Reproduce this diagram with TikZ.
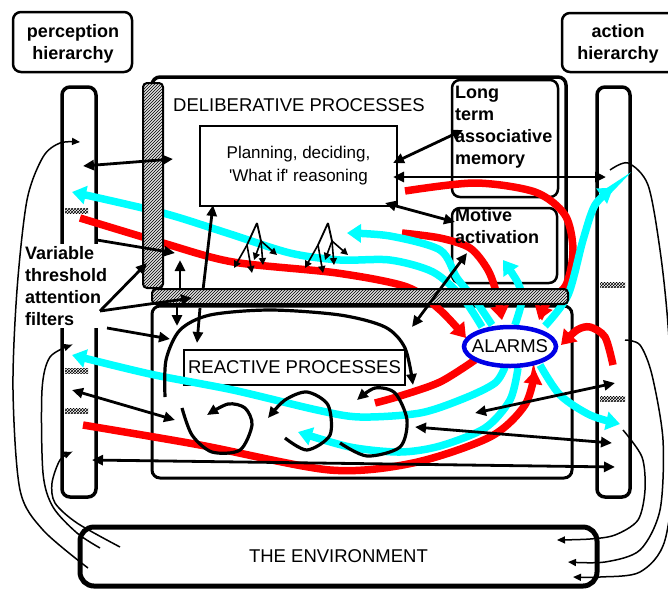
\documentclass[tikz,border=0pt]{standalone}
\usepackage{fontspec}
\setmainfont{Liberation Sans}
\usetikzlibrary{arrows.meta,patterns,shapes.geometric}
\definecolor{aqua}{RGB}{0,255,255}
\definecolor{alarmred}{RGB}{255,0,0}
\definecolor{alarmblue}{RGB}{0,0,230}

\begin{document}
\begin{tikzpicture}[x=1pt,y=-1pt,
    box/.style={draw,line width=3pt,rounded corners=8pt},
    bold/.style={font=\fontsize{18}{22}\selectfont\bfseries,inner sep=0pt},
    plain/.style={font=\fontsize{18.5}{22}\selectfont,inner sep=0pt},
    arr/.style={line width=2.8pt,-{Triangle[length=11pt,width=10pt]}},
    darr/.style={line width=2.8pt,{Triangle[length=11pt,width=10pt]}-{Triangle[length=11pt,width=10pt]}},
    fine/.style={line width=1.5pt,-{Triangle[length=8pt,width=7pt]}},
    tree/.style={line width=1.6pt,-{Triangle[length=7pt,width=7pt]}},
    flow/.style={line width=7.5pt,-{Triangle[length=14pt,width=18pt]}},
    hatchbar/.style={draw,line width=2pt,rounded corners=4pt,fill=gray!25,postaction={pattern=north east lines}},
    filt/.style={pattern=crosshatch}]
  \clip (0,0) rectangle (668,590);

  % hierarchy labels and columns
  \draw[box,line width=2.5pt] (13,12) rectangle (132,72);
  \draw[box,line width=2.5pt] (562,13) rectangle (700,72);
  \draw[line width=3.5pt,rounded corners=8pt] (62,87) rectangle (96,497);
  \draw[line width=3.5pt,rounded corners=8pt] (597,87) rectangle (630,497);
  \foreach \y in {208,368,408} \fill[filt] (65,\y) rectangle (88,\y+5);
  \foreach \y in {282,396} \fill[filt] (600,\y) rectangle (625,\y+5);

  % process boxes
  \draw[box,line width=3.5pt] (152,77) rectangle (566,290);
  \draw[box] (152,306) rectangle (572,478);
  \draw[box,line width=2.5pt] (452,80) rectangle (558,197);
  \draw[box,line width=2.5pt] (452,208) rectangle (557,283);
  \node[draw,line width=2pt,fill=white,minimum width=197pt,minimum height=80pt,align=center,
        font=\fontsize{17}{23}\selectfont] (plan) at (298.5,166)
        {Planning, deciding,\\\textquotesingle What if\textquotesingle\ reasoning};
  \node[draw,line width=2pt,fill=white,minimum width=221pt,minimum height=35pt,plain] (react)
        at (294.5,367.5) {REACTIVE PROCESSES};
  \node[draw,line width=5pt,rounded corners=14pt,minimum width=517pt,minimum height=59pt,plain] (env)
        at (338.5,556.5) {THE ENVIRONMENT};

  % red flows
  \draw[flow,alarmred] plot[smooth] coordinates {(80,218) (163,243) (233,262) (337,273) (407,287) (440,310) (466,338)};
  \draw[flow,alarmred] plot[smooth] coordinates {(405,191) (475,183) (535,192) (565,215) (573,250) (566,285) (547,303) (539,320)};
  \draw[flow,alarmred] plot[smooth] coordinates {(402,233) (440,238) (470,248) (488,270) (497,295) (502,320)};
  \draw[line width=7.5pt,alarmred] plot[smooth] coordinates {(475,360) (440,382) (400,396) (375,403)};
  \draw[flow,alarmred] plot[smooth] coordinates {(83,425) (200,445) (330,470) (413,463) (490,437) (525,405) (535,370)};
  \draw[flow,alarmred] plot[smooth] coordinates {(613,365) (605,337) (590,327) (577,330) (561,345)};

  % cyan flows
  \draw[flow,aqua] plot[smooth] coordinates {(482,327) (462,297) (433,272) (390,260) (340,260) (290,253) (227,233) (163,213) (72,192)};
  \draw[flow,aqua] plot[smooth] coordinates {(492,325) (475,300) (457,278) (440,250) (390,236) (347,233)};
  \draw[flow,aqua] plot[smooth] coordinates {(515,325) (522,300) (518,283) (503,260)};
  \draw[flow,aqua] plot[smooth] coordinates {(545,326) (568,295) (583,240) (595,205) (613,188)};
  \draw[flow,aqua] plot[smooth] coordinates {(505,367) (495,383) (465,398) (420,413) (360,417) (317,410) (233,390) (150,374) (72,355)};
  \draw[flow,aqua] plot[smooth] coordinates {(518,368) (510,400) (485,428) (440,446) (400,452) (350,447) (298,432)};
  \draw[flow,aqua] plot[smooth] coordinates {(540,365) (560,395) (590,415) (620,424)};

  % attention filter bars
  \draw[hatchbar] (143,83) rectangle (163,288);
  \draw[hatchbar] (152,289) rectangle (568,304);

  \node[ellipse,draw=alarmblue,line width=4.5pt,fill=white,minimum width=92pt,minimum height=39pt] (alarms) at (510,346.5) {};
  \node[plain] (alarmtxt) at (alarms) {ALARMS};

  % texts
  \node[bold,align=center] (perc) at (73,44) {perception\\hierarchy};
  \node[bold,align=center] (act) at (618,44) {action\\hierarchy};
  \node[plain,anchor=base west] (delib) at (173,111) {DELIBERATIVE PROCESSES};
  \node[bold,align=left,anchor=west] (ltm) at (455,127.5) {Long\\term\\associative\\memory};
  \node[bold,align=left,anchor=west] (motive) at (455,226) {Motive\\activation};
  \node[bold,align=left,anchor=west,fill=white,inner sep=2pt] (filters) at (23,286) {Variable\\threshold\\attention\\filters};

  % black arrows
  \draw[darr] (83,166) -- (173,159);
  \draw[arr] (97,240) -- (175,253);
  \draw[arr] (180,288) -- (180,260);
  \draw[arr] (203,290) -- (213,205);
  \draw[arr] (100,311) -- (147,263);
  \draw[arr] (100,311) -- (192,298);
  \draw[arr] (107,328) -- (170,339);
  \draw[arr] (177,305) -- (177,326);
  \draw[arr] (200,308) -- (197,343);
  \draw[darr] (72,390) -- (175,420);
  \draw[darr] (92,460) -- (615,467);
  \draw[darr] (475,413) -- (615,383);
  \draw[darr] (415,427) -- (612,443);
  \draw[darr] (393,177) -- (606,177);
  \draw[darr] (393,163) -- (463,130);
  \draw[darr] (385,203) -- (455,222);
  \draw[darr] (412,327) -- (467,253);

  % reactive loops
  \draw[arr,line width=3.2pt] plot[smooth] coordinates {(165,397) (166,360) (180,330) (210,315) (270,310) (340,315) (385,327) (405,348) (413,385)};
  \draw[arr,line width=3.2pt] plot[smooth] coordinates {(182,408) (192,435) (212,452) (240,450) (252,425) (245,408) (228,404) (207,415)};
  \draw[arr,line width=3.2pt] plot[smooth] coordinates {(285,438) (307,450) (330,435) (328,405) (307,392) (285,400) (268,418)};
  \draw[arr,line width=3.2pt] plot[smooth] coordinates {(340,443) (367,456) (400,447) (407,420) (395,393) (375,388) (357,400)};

  % option trees
  \foreach \rx/\ry in {257/223,328/223} {
    \draw[line width=1.8pt] (\rx,\ry) -- (\rx-10,\ry+22) (\rx,\ry) -- (\rx+4,\ry+18);
    \draw[tree] (\rx-10,\ry+22) -- (\rx-23,\ry+45);
    \draw[tree] (\rx-10,\ry+22) -- (\rx-5,\ry+50);
    \draw[tree] (\rx+4,\ry+18) -- (\rx-3,\ry+37);
    \draw[tree] (\rx+4,\ry+18) -- (\rx+6,\ry+42);
    \draw[tree] (\rx+4,\ry+18) -- (\rx+20,\ry+32);
  }

  % environment loops
  \draw[fine] plot[smooth] coordinates {(88,568) (43,530) (20,490) (13,390) (17,290) (27,200) (43,157) (60,143) (80,142)};
  \draw[fine] plot[smooth] coordinates {(100,548) (77,533) (53,507) (43,473) (42,390) (50,357) (72,345)};
  \draw[fine] plot[smooth] coordinates {(120,547) (77,523) (55,503) (52,483) (60,460) (72,452)};
  \draw[fine] plot[smooth] coordinates {(610,170) (628,163) (648,185) (660,250) (668,325) (675,450) (665,540) (640,572) (600,577) (573,577)};
  \draw[fine] plot[smooth] coordinates {(625,340) (640,345) (652,375) (663,440) (660,510) (640,550) (605,562) (568,562)};
  \draw[fine] plot[smooth] coordinates {(623,430) (642,457) (645,490) (638,520) (615,535) (590,539) (557,540)};
\end{tikzpicture}
\end{document}
